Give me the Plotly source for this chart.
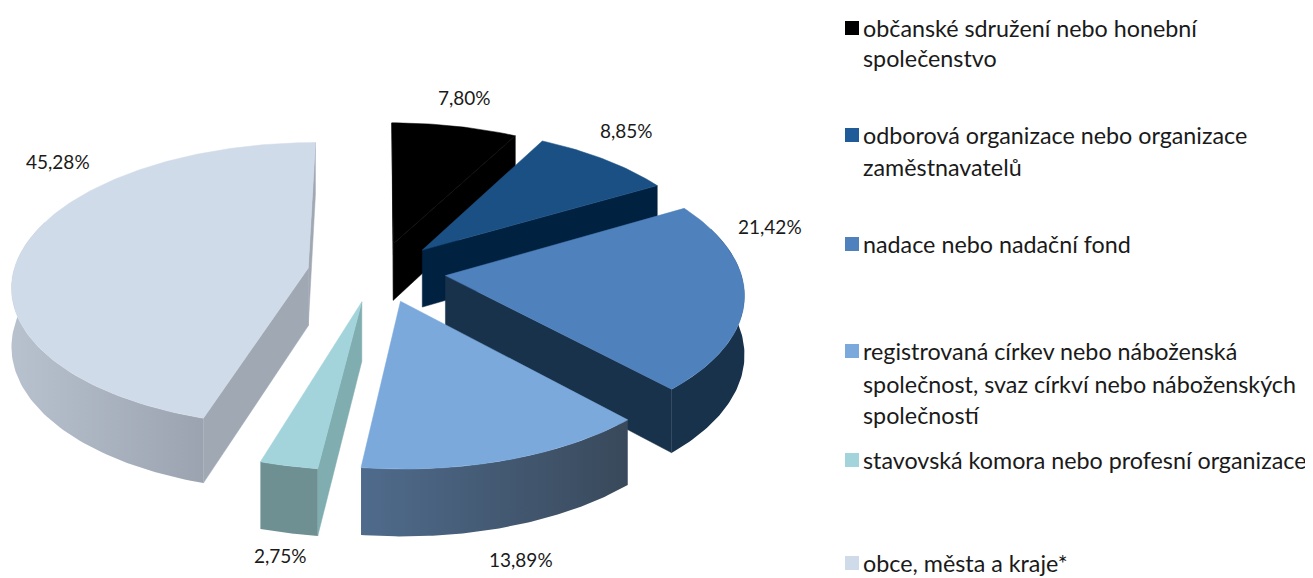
import numpy as np
import plotly.graph_objects as go

# ---- data ----
categories = [
    "občanské sdružení nebo honební společenstvo",
    "odborová organizace nebo organizace zaměstnavatelů",
    "nadace nebo nadační fond",
    "registrovaná církev nebo náboženská společnost, svaz církví nebo náboženských společností",
    "stavovská komora nebo profesní organizace",
    "obce, města a kraje*",
]
shares = [7.80, 8.85, 21.42, 13.89, 2.75, 45.28]
value_labels = ["7,80%", "8,85%", "21,42%", "13,89%", "2,75%", "45,28%"]
legend_lines = [
    ["občanské sdružení nebo honební", "společenstvo"],
    ["odborová organizace nebo organizace", "zaměstnavatelů"],
    ["nadace nebo nadační fond"],
    ["registrovaná církev nebo náboženská", "společnost, svaz církví nebo náboženských", "společností"],
    ["stavovská komora nebo profesní organizace"],
    ["obce, města a kraje*"],
]

# ---- styles ----
top_colors = ["#000000", "#1b5085", "#4f81bd", "#7ba9dc", "#a3d4dc", "#d0dbe9"]
cut_colors = ["#000000", "#00213f", "#18324c", "#3a4b5e", "#80adb0", "#a0a8b4"]
arc_grad = [
    ("#000000", "#000000"), ("#00213f", "#00213f"), ("#18324c", "#18324c"),
    ("#4f6b8c", "#39495b"), ("#6e9092", "#6e9092"), ("#b8c1ce", "#9aa3af"),
]
legend_colors = ["#000000", "#1f5a99", "#4f81bd", "#7ba9dc", "#a3d4dc", "#d0dbe9"]
label_pos = [(464, 97), (626, 130), (770, 226), (521, 559), (280, 555), (58, 161)]
legend_y = [[28, 58], [135, 167], [244], [351, 384, 415], [460], [563]]
explode = [0.22, 0.22, 0.22, 0.22, 0.225, 0.24]
# small screen nudges of each exploded slice (px)
nudge = [(-2, 3), (-2, 2), (1, 1), (0, 1), (-4, 0), (-2, 3)]

# ---- projection ----
CX, CY, A, B, D, P = 380, 270, 295, 141, 58, 0.115
PAGE_MARGIN = 8  # the page's own body margin


def proj(X, Y, z, n=(0, 0)):
    k = 1 / (1 + P * Y)
    return CX + A * X * k + n[0], CY - (B * Y + D * z) * k + n[1]


def to_xy(points):
    xs, ys = zip(*points)
    return list(xs) + [xs[0]], list(ys) + [ys[0]]


fig = go.Figure()


def add_poly(points, color, grad=None):
    x, y = to_xy(points)
    tr = dict(x=x, y=y, mode="lines", fill="toself", line=dict(width=0.5, color=color),
              fillcolor=color, hoverinfo="skip", showlegend=False)
    if grad:
        tr["fillgradient"] = dict(type="horizontal", colorscale=[[0, grad[0]], [1, grad[1]]])
        tr["line"] = dict(width=0)
    fig.add_trace(go.Scatter(**tr))


def area(points):
    p = np.array(points)
    return 0.5 * np.sum(p[:, 0] * np.roll(p[:, 1], -1) - np.roll(p[:, 0], -1) * p[:, 1])


edges = np.cumsum([0] + shares) / sum(shares) * 2 * np.pi
order = [0, 1, 2, 5, 3, 4]  # painter's order: back to front
for i in order:
    a0, a1 = edges[i], edges[i + 1]
    mid = (a0 + a1) / 2
    e, n = explode[i], nudge[i]
    ox, oy = e * np.sin(mid), e * np.cos(mid)
    rim = lambda t: (ox + np.sin(t), oy + np.cos(t))
    apex = (ox, oy)

    # cut faces: keep only the ones facing the viewer
    for t, sign in ((a0, -1), (a1, 1)):
        r = rim(t)
        q = [proj(*apex, 0, n), proj(*r, 0, n), proj(*r, -1, n), proj(*apex, -1, n)]
        if sign * area(q) > 0:
            add_poly(q, cut_colors[i])

    # outer wall: front of the rim, a little past the side extremes (the top face covers the excess)
    lo, hi = max(a0, np.radians(70)), min(a1, np.radians(290))
    if hi > lo:
        ts = np.linspace(lo, hi, 80)
        wall = [proj(*rim(t), 0, n) for t in ts] + [proj(*rim(t), -1, n) for t in ts[::-1]]
        add_poly(wall, arc_grad[i][0], grad=arc_grad[i])

    # top face
    ts = np.linspace(a0, a1, max(8, int((a1 - a0) * 60)))
    add_poly([proj(*apex, 0, n)] + [proj(*rim(t), 0, n) for t in ts], top_colors[i])

# legend swatches
fig.add_trace(go.Scatter(
    x=[852] * len(categories), y=[ys[0] for ys in legend_y], mode="markers",
    marker=dict(symbol="square", size=14, color=legend_colors), hoverinfo="skip",
    showlegend=False))

FONT = "Lato, Carlito, sans-serif"
for txt, (x, y) in zip(value_labels, label_pos):
    fig.add_annotation(x=x, y=y, text=txt, showarrow=False, xanchor="center", yanchor="middle",
                       font=dict(family=FONT, size=19, color="#1a1a1a"))
for lines, ys in zip(legend_lines, legend_y):
    for t, y in zip(lines, ys):
        fig.add_annotation(x=861, y=y, text=t, showarrow=False, xanchor="left", yanchor="middle",
                           font=dict(family=FONT, size=23.3, color="#1a1a1a"))

fig.update_layout(
    width=1313 - PAGE_MARGIN, height=578 - PAGE_MARGIN, margin=dict(l=0, r=0, t=0, b=0), autosize=False,
    paper_bgcolor="white", plot_bgcolor="white", showlegend=False,
    xaxis=dict(range=[PAGE_MARGIN, 1313], visible=False, fixedrange=True),
    yaxis=dict(range=[578, PAGE_MARGIN], visible=False, fixedrange=True),
)
fig.write_html("out.html", config={"displayModeBar": False})
